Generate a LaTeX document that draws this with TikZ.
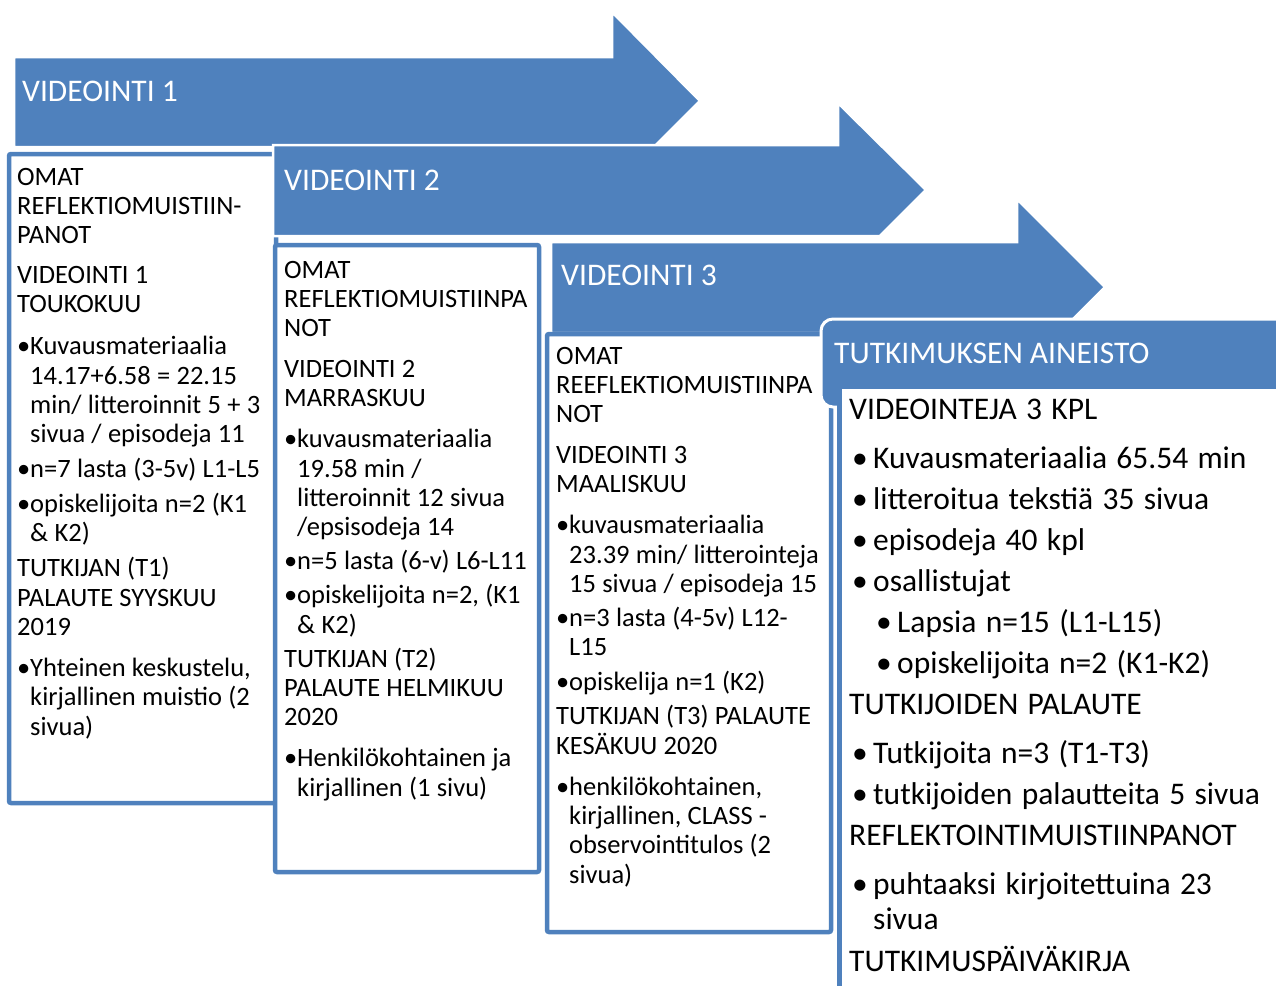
\documentclass[tikz,border=0pt]{standalone}
\usepackage{fontspec}
\setmainfont{Carlito}
\definecolor{myblue}{RGB}{79,129,189}
\newcommand\Hl[1]{\par\noindent#1}
\newcommand\Bl[1]{\par\noindent\makebox[13pt][l]{•}#1}
\newcommand\Cl[1]{\par\noindent\hspace*{13pt}#1}
\newcommand\BB[1]{\par\noindent\hspace*{3pt}\makebox[21pt][l]{•}#1}
\newcommand\BS[1]{\par\noindent\hspace*{27pt}\makebox[21pt][l]{•}#1}
\newcommand\CC[1]{\par\noindent\hspace*{24pt}#1}
\newcommand\Gap[1]{\par\vspace{#1}}
\newcommand\tightA{\spaceskip=6.3pt plus 1pt minus 1pt\relax}
\newcommand\tightB{\spaceskip=9.3pt plus 1pt minus 1pt\relax}
\tikzset{
  arrowshape/.style={fill=myblue, draw=white, line width=2.5pt, line join=miter},
  boxshape/.style={fill=white, draw=myblue, line width=4.5pt, rounded corners=2pt},
  tabshape/.style={fill=myblue, draw=white, line width=3pt, rounded corners=12pt},
  lbl/.style={anchor=base west, inner sep=0pt, text=white, font=\fontsize{31.5}{35}\selectfont},
  body/.style={anchor=base west, inner sep=0pt, text width=#1, font=\fontsize{26.5}{29.3}\selectfont},
  bigbody/.style={anchor=base west, inner sep=0pt, text width=#1, font=\fontsize{31.5}{35}\selectfont}
}
\begin{document}
\begin{tikzpicture}[x=1pt,y=-1pt]
\useasboundingbox (0,0) rectangle (1276,985);
\clip (0,0) rectangle (1276,985);

% arrow 1 and box 1
\draw[arrowshape] (14,57) -- (612,57) -- (612,12) -- (700,101) -- (654,147) -- (14,147) -- cycle;
\draw[boxshape] (9,154) rectangle (276,803);
% arrow 2 and box 2
\draw[arrowshape] (273,145) -- (838,145) -- (838,103) -- (926,190) -- (880,236) -- (273,236) -- cycle;
\draw[boxshape] (275,245) rectangle (539,872);
% arrow 3 and box 3
\draw[arrowshape] (551,242) -- (1017,242) -- (1017,199) -- (1105,287) -- (1059,333) -- (551,333) -- cycle;
\draw[boxshape] (547,334) rectangle (831,932);
% final tab and box
\draw[tabshape] (821,319) rectangle (1310,407);
\draw[fill=white, draw=myblue, line width=5pt] (839,386) rectangle (1310,1010);

% labels
\node[lbl] (l1) at (22,101) {VIDEOINTI 1};
\node[lbl] (l2) at (284,190) {VIDEOINTI 2};
\node[lbl] (l3) at (561,285) {VIDEOINTI 3};
\node[lbl] (l4) at (834,363) {TUTKIMUKSEN AINEISTO};

% box 1 text
\node[body=255pt] (t1) at (17,185) {\tightA OMAT
\Hl{REFLEKTIOMUISTIIN-}
\Hl{PANOT}
\Gap{10.7pt}\Hl{VIDEOINTI 1}
\Hl{TOUKOKUU}
\Gap{12.7pt}\Bl{Kuvausmateriaalia}
\Cl{14.17+6.58 = 22.15}
\Cl{min/ litteroinnit 5 + 3}
\Cl{sivua / episodeja 11}
\Gap{5.7pt}\Bl{n=7 lasta (3-5v) L1-L5}
\Gap{5pt}\Bl{opiskelijoita n=2 (K1}
\Cl{\& K2)}
\Gap{6pt}\Hl{TUTKIJAN (T1)}
\Hl{PALAUTE SYYSKUU}
\Hl{2019}
\Gap{12pt}\Bl{Yhteinen keskustelu,}
\Cl{kirjallinen muistio (2}
\Cl{sivua)}};

% box 2 text
\node[body=255pt] (t2) at (284,278) {\tightA OMAT
\Hl{REFLEKTIOMUISTIINPA}
\Hl{NOT}
\Gap{11.7pt}\Hl{VIDEOINTI 2}
\Hl{MARRASKUU}
\Gap{11.7pt}\Bl{kuvausmateriaalia}
\Cl{19.58 min /}
\Cl{litteroinnit 12 sivua}
\Cl{/epsisodeja 14}
\Gap{4.7pt}\Bl{n=5 lasta (6-v) L6-L11}
\Gap{4.7pt}\Bl{opiskelijoita n=2, (K1}
\Cl{\& K2)}
\Gap{4.7pt}\Hl{TUTKIJAN (T2)}
\Hl{PALAUTE HELMIKUU}
\Hl{2020}
\Gap{11.7pt}\Bl{Henkilökohtainen ja}
\Cl{kirjallinen (1 sivu)}};

% box 3 text
\node[body=275pt] (t3) at (556,364) {\tightA OMAT
\Hl{REEFLEKTIOMUISTIINPA}
\Hl{NOT}
\Gap{11.7pt}\Hl{VIDEOINTI 3}
\Hl{MAALISKUU}
\Gap{11.7pt}\Bl{kuvausmateriaalia}
\Cl{23.39 min/ litterointeja}
\Cl{15 sivua / episodeja 15}
\Gap{4.7pt}\Bl{n=3 lasta (4-5v) L12-}
\Cl{L15}
\Gap{5.7pt}\Bl{opiskelija n=1 (K2)}
\Gap{4.7pt}\Hl{TUTKIJAN (T3) PALAUTE}
\Hl{KESÄKUU 2020}
\Gap{11.7pt}\Bl{henkilökohtainen,}
\Cl{kirjallinen, CLASS -}
\Cl{observointitulos (2}
\Cl{sivua)}};

% box 4 text
\node[bigbody=425pt] (t4) at (849,419) {\tightB VIDEOINTEJA 3 KPL
\Gap{14pt}\BB{Kuvausmateriaalia 65.54 min}
\Gap{6pt}\BB{litteroitua tekstiä 35 sivua}
\Gap{6pt}\BB{episodeja 40 kpl}
\Gap{6pt}\BB{osallistujat}
\Gap{6pt}\BS{Lapsia n=15 (L1-L15)}
\Gap{6pt}\BS{opiskelijoita n=2 (K1-K2)}
\Gap{6pt}\Hl{TUTKIJOIDEN PALAUTE}
\Gap{14pt}\BB{Tutkijoita n=3 (T1-T3)}
\Gap{6pt}\BB{tutkijoiden palautteita 5 sivua}
\Gap{6pt}\Hl{REFLEKTOINTIMUISTIINPANOT}
\Gap{14pt}\BB{puhtaaksi kirjoitettuina 23}
\CC{sivua}
\Gap{7pt}\Hl{TUTKIMUSPÄIVÄKIRJA}};
\end{tikzpicture}
\end{document}
